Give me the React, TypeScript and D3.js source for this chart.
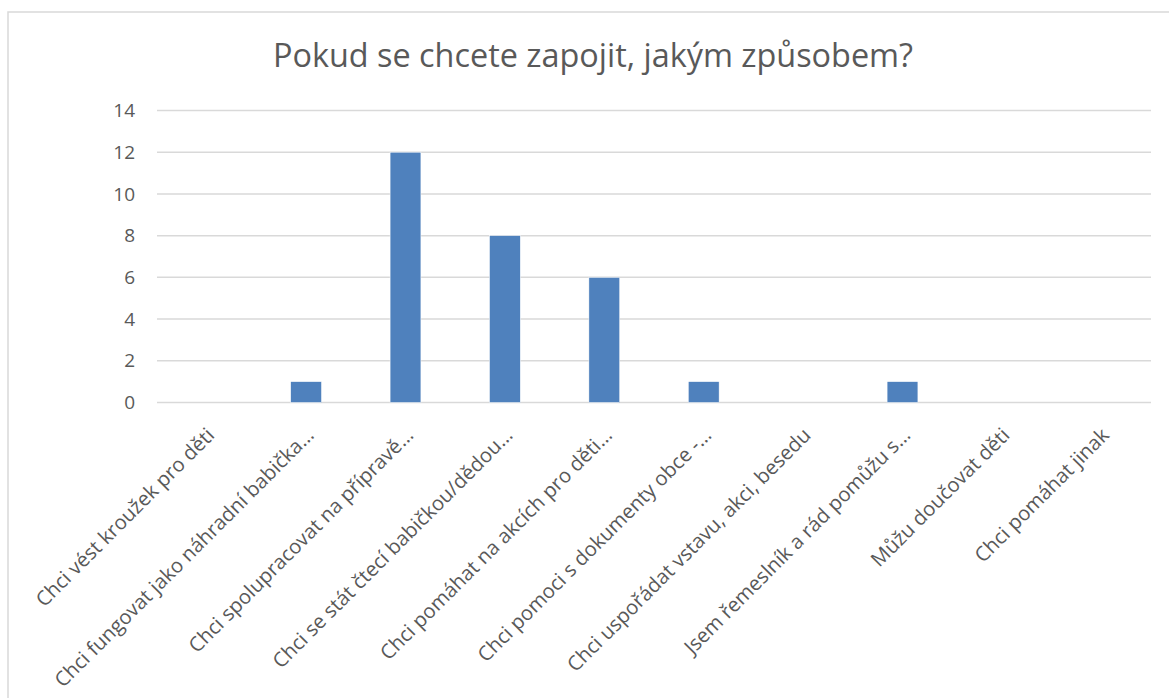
import React from "react";
import * as d3 from "d3";

const title = "Pokud se chcete zapojit, jakým způsobem?";
const categories = [
  "Chci vést kroužek pro děti",
  "Chci fungovat jako náhradní babička…",
  "Chci spolupracovat na přípravě…",
  "Chci se stát čtecí babičkou/dědou…",
  "Chci pomáhat na akcích pro děti…",
  "Chci pomoci s dokumenty obce -…",
  "Chci uspořádat vstavu, akci, besedu",
  "Jsem řemeslník a rád pomůžu s…",
  "Můžu doučovat děti",
  "Chci pomáhat jinak",
];
const values = [0, 1, 12, 8, 6, 1, 0, 1, 0, 0];
const yTicks = [0, 2, 4, 6, 8, 10, 12, 14];

const W = 1169;
const H = 698;
const plot = { left: 157, right: 1151, top: 110.5, bottom: 402.5 };
const FONT = "'Open Sans', 'Noto Sans', sans-serif";
const TEXT = "#595959";
const GRID = "#d9d9d9";
const BAR = "#4f81bd";

export default function App() {
  const x = d3
    .scaleBand<string>()
    .domain(categories)
    .range([plot.left, plot.right])
    .paddingInner(0.69)
    .paddingOuter(0.345);
  const y = d3.scaleLinear().domain([0, 14]).range([plot.bottom, plot.top]);
  const step = (plot.right - plot.left) / categories.length;

  return (
    <svg
      width={W}
      height={H}
      style={{ position: "absolute", left: 0, top: 0, background: "#fff" }}
      fontFamily={FONT}
    >
      <rect x={8} y={12} width={W + 10} height={H + 10} fill="#fff" stroke={GRID} strokeWidth={1.5} />
      <text x={593} y={67} textAnchor="middle" fontSize={32.4} fill={TEXT}>
        {title}
      </text>
      {yTicks.map((t) => (
        <g key={t}>
          <line x1={plot.left} x2={plot.right} y1={y(t)} y2={y(t)} stroke={GRID} strokeWidth={1.5} />
          <text x={135} y={y(t)} dy="0.35em" textAnchor="end" fontSize={19} fill={TEXT}>
            {t}
          </text>
        </g>
      ))}
      {categories.map((c, i) => (
        <rect
          key={c}
          x={x(c)!}
          y={y(values[i])}
          width={x.bandwidth()}
          height={y(0) - y(values[i])}
          fill={BAR}
          stroke="#fff"
          strokeWidth={0.5}
        />
      ))}
      {categories.map((c, i) => {
        const cx = plot.left + step * (i + 0.5);
        const ax = cx + 9;
        const ay = plot.bottom + 34;
        return (
          <text
            key={"l" + c}
            x={ax}
            y={ay}
            textAnchor="end"
            fontSize={20.2}
            fill={TEXT}
            transform={`rotate(-45 ${ax} ${ay})`}
          >
            {c}
          </text>
        );
      })}
    </svg>
  );
}
